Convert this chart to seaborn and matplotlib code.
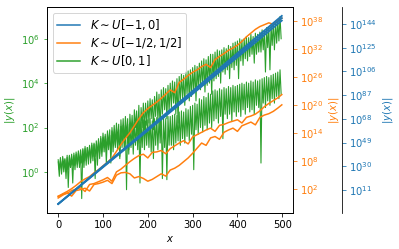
import numpy as np
import pandas as pd
import matplotlib
matplotlib.use("Agg")
import matplotlib.pyplot as plt
import seaborn as sns
from matplotlib.ticker import FixedLocator, NullLocator, LogFormatterSciNotation

# ---------------- data (log10 of |y(x)|) ----------------
x_green = np.arange(0, 500, 2.5)
x_orange = np.append(np.arange(0, 500, 10), 499)
x_blue = [0, 50, 100, 150, 200, 250, 300, 350, 400, 450, 499]

green_1 = [0.55, 0.1, 0.65, -0.1, 0.7, 0.3, 0.6, 0.0, 0.75, -0.7, 0.7, 0.2, 0.8, 0.3, 0.75, 0.1, 0.9, 0.35, 0.85, 0.2,
           1.0, -1.2, 1.05, 0.5, 1.15, 0.3, 1.1, 0.6, 1.2, 0.4, 1.3, 0.7, 1.25, -0.3, 1.4, 0.8, 1.5, 0.6, 1.6, 0.9,
           1.75, 1.1, 1.7, 0.9, 1.85, 1.2, 1.9, 0.4, 2.0, 1.3, 2.1, 1.2, 2.2, 1.4, 2.15, 0.7, 2.35, 1.5, 2.4, 1.3,
           2.5, 1.6, 2.4, 0.8, 2.6, 1.8, 2.55, 1.5, 2.8, 2.0, 2.75, 1.7, 3.0, 1.3, 2.9, 2.0, 3.1, 1.9, 3.1, 2.1,
           3.2, 2.2, 3.3, 2.4, 3.25, 1.9, 3.4, 2.5, 3.6, 2.3, 3.5, 1.8, 3.7, 2.6, 3.8, 2.8, 3.75, 2.4, 3.9, 2.7,
           4.0, 2.9, 4.1, 3.1, 4.05, 2.6, 4.2, 2.2, 4.3, 3.2, 4.4, 3.3, 4.35, 3.0, 4.5, 3.5, 4.55, 3.2, 4.6, 3.4,
           4.7, 3.6, 4.8, 3.2, 4.75, 3.8, 4.9, 3.7, 5.0, 3.9, 5.1, 3.6, 5.05, 3.9, 5.2, 4.0, 5.3, 3.5, 5.3, 4.1,
           5.4, 4.2, 5.5, 4.3, 5.45, 4.0, 5.5, 4.5, 5.6, 4.4, 5.55, 4.6, 5.7, 4.2, 5.65, 4.7, 5.8, 4.6, 5.85, 4.8,
           5.9, 4.2, 6.0, 5.0, 5.95, 4.8, 6.0, 5.1, 6.1, 5.0, 6.05, 5.2, 6.2, 5.3, 6.1, 4.9, 6.25, 5.3, 6.2, 5.4,
           6.3, 5.4, 6.4, 5.5, 6.35, 4.5, 6.5, 5.6, 6.5, 4.6, 6.6, 5.7, 6.7, 5.5, 6.75, 5.8, 6.8, 5.9, 7.0, 6.0]
green_2 = [0.45, -0.2, 0.5, 0.1, 0.6, 0.0, 0.55, -0.3, 0.65, 0.1, 0.75, 0.2, 0.7, -0.5, 0.85, 0.3, 0.8, 0.2, 0.95, 0.35,
           0.95, 0.4, 1.0, 0.2, 1.05, 0.5, 1.1, 0.35, 1.15, 0.6, 1.2, 0.5, 1.3, 0.7, 1.25, 0.3, 1.4, 0.8, 1.5, 0.7,
           1.55, 0.9, 1.6, 0.4, 1.7, 1.0, 1.65, 0.8, 1.85, 0.9, 1.8, 1.1, 1.95, 1.0, 1.9, 0.6, 2.05, 1.1, 2.1, 1.0,
           2.1, -0.8, 2.15, 1.0, 2.2, 1.1, 2.1, 0.8, 2.25, 1.2, 2.2, 1.0, 2.3, -0.5, 2.25, 1.1, 2.35, 1.0, 2.3, 1.2,
           2.35, 1.1, 2.4, 0.9, 2.3, 0.6, 2.4, 1.2, 2.45, 1.0, 2.4, 1.3, 2.5, -0.3, 2.45, 1.1, 2.4, -0.35, 2.5, 1.2,
           2.5, 1.2, 2.55, 1.0, 2.6, 1.3, 2.55, 1.4, 2.7, 1.2, 2.75, 1.5, 2.7, 1.3, 2.85, 1.6, 2.8, 1.4, 2.95, 1.7,
           3.0, 0.1, 3.1, 1.9, 3.05, 1.7, 3.3, 2.0, 3.25, 1.8, 3.4, 2.1, 3.35, 1.9, 3.55, 2.2, 3.5, 2.0, 3.65, 2.3,
           3.7, 2.4, 3.65, 2.2, 3.75, 2.5, 3.7, 1.5, 3.8, 2.6, 3.75, 2.4, 3.85, 2.6, 3.8, 2.3, 3.9, 2.7, 3.85, 2.5,
           3.9, 2.7, 3.95, 2.5, 4.0, 2.8, 3.95, 2.6, 4.05, 2.9, 4.0, 2.7, 4.1, 2.8, 4.05, 2.6, 4.15, 3.0, 4.1, 2.9,
           4.15, 0.4, 4.2, 3.1, 4.25, 2.9, 4.3, 3.2, 4.25, 3.0, 4.35, 3.3, 4.4, 3.1, 4.45, 3.4, 4.5, 3.3, 4.6, 3.5]

orange_1 = [0.3, 0.9, 1.4, 2.0, 2.7, 3.5, 4.1, 4.6, 5.4, 6.1,
            6.9, 7.7, 8.6, 10.0, 11.5, 12.8, 14.0, 15.5, 17.0, 18.3,
            19.2, 19.9, 20.6, 21.4, 22.3, 23.2, 22.6, 24.8, 25.5, 26.3,
            27.0, 27.5, 28.2, 28.7, 28.0, 29.7, 30.4, 31.0, 31.7, 32.2,
            32.8, 33.6, 34.6, 35.4, 36.2, 36.8, 37.2, 37.6, 37.3, 38.2,
            38.6]
orange_2 = [0.4, 0.8, 1.0, 1.6, 1.9, 2.2, 1.4, 2.9, 3.1, 3.5,
            3.9, 4.4, 3.6, 5.6, 6.2, 7.0, 7.8, 8.5, 9.1, 9.4,
            8.6, 9.8, 9.9, 10.2, 9.5, 10.6, 11.2, 11.8, 12.3, 11.6,
            13.1, 13.6, 14.1, 14.6, 15.0, 14.3, 15.6, 15.8, 16.2, 16.5,
            16.8, 16.1, 17.3, 17.6, 18.0, 18.7, 19.6, 20.3, 20.9, 21.5,
            22.2]
orange_3 = [0.0, 0.6, 1.1, 0.4, 1.6, 1.8, 2.1, 1.5, 2.9, 3.1,
            3.4, 3.8, 3.1, 4.9, 5.4, 5.5, 5.2, 4.3, 4.6, 4.2,
            3.6, 4.0, 4.6, 5.2, 4.7, 6.0, 6.4, 7.0, 7.8, 8.6,
            9.6, 10.7, 11.8, 11.3, 12.9, 13.2, 12.6, 14.1, 14.6, 15.0,
            14.3, 15.5, 15.9, 16.3, 15.7, 17.3, 17.8, 18.1, 18.6, 19.3,
            20.0]

blue_1 = [-0.2, 14.9, 30.0, 45.1, 60.2, 75.3, 90.4, 105.5, 120.6, 135.7, 150.5]
blue_2 = [-0.2, 14.5, 29.2, 43.9, 58.6, 73.3, 88.0, 102.7, 117.4, 132.1, 146.7]
blue_3 = [-0.2, 14.7, 29.6, 44.5, 59.4, 74.3, 89.2, 104.1, 119.0, 133.9, 148.7]

labels = [r"$K\sim U[-1,0]$", r"$K\sim U[-1/2,1/2]$", r"$K\sim U[0,1]$"]

green_ticks = [0, 2, 4, 6]
orange_ticks = [2, 8, 14, 20, 26, 32, 38]
blue_ticks = [11, 30, 49, 68, 87, 106, 125, 144]

# ---------------- figure ----------------
fig = plt.figure(figsize=(399 / 72, 249 / 72), dpi=72)
ax = fig.add_axes([47 / 399, 36 / 249, 246 / 399, 206 / 249])
tw1 = ax.twinx()
tw2 = ax.twinx()
tw2.spines["right"].set_position(("axes", 1.2))

for a in (ax, tw1, tw2):
    a.set_yscale("log")

for g in (green_1, green_2):
    sns.lineplot(x=x_green, y=10.0 ** np.array(g), ax=ax, color="C2", lw=1.1,
                 legend=False, estimator=None)
for o in (orange_1, orange_2, orange_3):
    sns.lineplot(x=x_orange, y=10.0 ** np.array(o), ax=tw1, color="C1", lw=1.5,
                 legend=False, estimator=None)
for b in (blue_1, blue_2, blue_3):
    sns.lineplot(x=x_blue, y=10.0 ** np.array(b), ax=tw2, color="C0", lw=1.8,
                 legend=False, estimator=None)

ax.set_xlim(-24.95, 523.95)
ax.set_xticks([0, 100, 200, 300, 400, 500])

ax.set_ylim(10 ** -1.85, 10 ** 7.43)
tw1.set_ylim(10 ** -3.22, 10 ** 41.0)
tw2.set_ylim(10 ** -7.43, 10 ** 157.6)

for a, t, c in ((ax, green_ticks, "C2"), (tw1, orange_ticks, "C1"), (tw2, blue_ticks, "C0")):
    a.yaxis.set_major_locator(FixedLocator([10.0 ** k for k in t]))
    a.yaxis.set_minor_locator(NullLocator())
    a.yaxis.set_major_formatter(LogFormatterSciNotation())
    a.set_ylabel("$|y(x)|$", color=c)
    a.tick_params(axis="y", colors=c)
    a.set_xlabel("$x$" if a is ax else "")

handles = [tw2.lines[0], tw1.lines[0], ax.lines[0]]
leg = tw2.legend(handles, labels, loc="upper left", fontsize=11.5, labelspacing=0.25)
for ln in leg.get_lines():
    ln.set_linewidth(1.5)

fig.savefig("out.png", dpi=72)
